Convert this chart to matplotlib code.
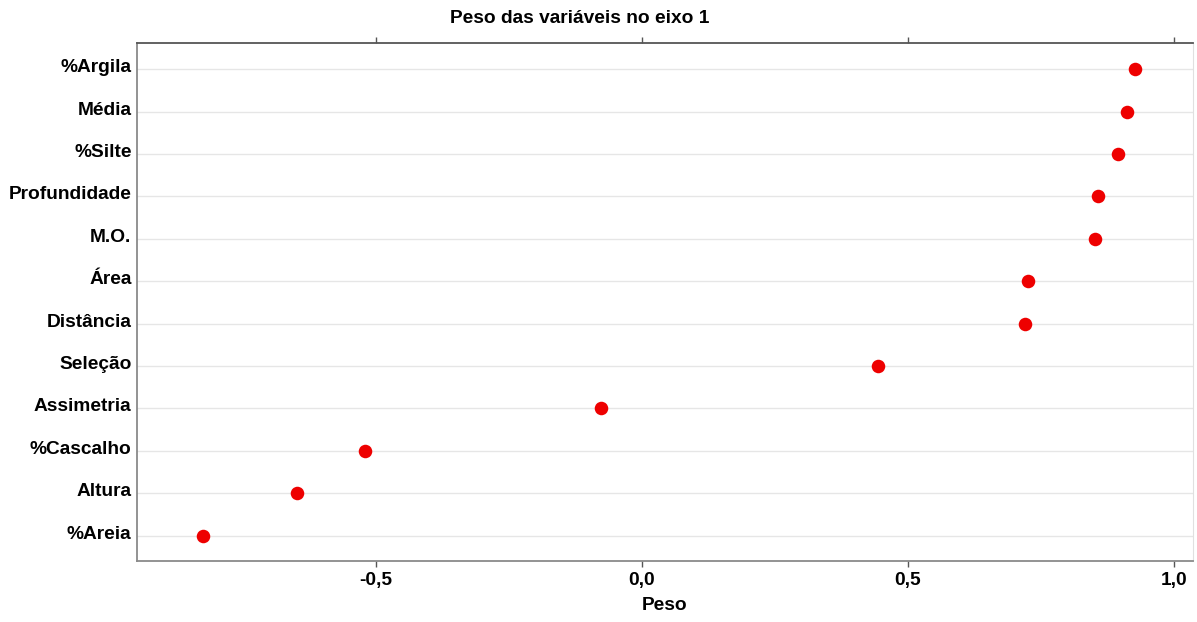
import matplotlib
matplotlib.use("Agg")
import matplotlib.pyplot as plt
import matplotlib.transforms as mtransforms
import numpy as np

# ── Data ─────────────────────────────────────────────────────────────────────
variables = ["%Argila", "Média", "%Silte", "Profundidade", "M.O.", "Área",
             "Distância", "Seleção", "Assimetria", "%Cascalho", "Altura", "%Areia"]
pesos = [0.927, 0.912, 0.895, 0.857, 0.852, 0.726,
         0.720, 0.444, -0.077, -0.521, -0.648, -0.825]
x_ticks = [-0.5, 0.0, 0.5, 1.0]
x_labels = ["-0,5", "0,0", "0,5", "1,0"]

plt.rcParams["font.family"] = ["Liberation Sans", "DejaVu Sans"]
FS = 13.8

fig = plt.figure(figsize=(11.97, 6.22), dpi=100)
ax = fig.add_axes([0.1145, 0.098, 0.882, 0.833])

y = np.arange(len(variables))[::-1]
ax.scatter(pesos, y, s=95, color="#ee0000", zorder=3, linewidths=0)

ax.set_xlim(-0.949, 1.036)
ax.set_ylim(-0.6, len(variables) - 1 + 0.62)

ax.set_yticks(y)
ax.set_yticklabels(variables, fontsize=FS, fontweight="bold")
ax.tick_params(axis="y", length=0, pad=4)
# labels sit just above their gridline, nudged down a few px
shift = mtransforms.ScaledTranslation(0, -3 / 100, fig.dpi_scale_trans)
for lbl in ax.get_yticklabels():
    lbl.set_verticalalignment("baseline")
    lbl.set_transform(lbl.get_transform() + shift)

ax.set_xticks(x_ticks)
ax.set_xticklabels(x_labels, fontsize=FS, fontweight="bold")
ax.tick_params(axis="x", direction="out", length=4, width=1, color="#555555",
               top=True, pad=4)
ax.set_xlabel("Peso", fontsize=FS, fontweight="bold", labelpad=6)

ax.grid(axis="y", color="#e6e6e6", linewidth=1, zorder=0)
ax.grid(axis="x", visible=False)

for side in ["left", "bottom", "top"]:
    ax.spines[side].set_color("#8a8a8a")
    ax.spines[side].set_linewidth(1.3)
ax.spines["top"].set_color("#555555")
ax.spines["right"].set_color("#e0e0e0")

fig.text(0.484, 0.97, "Peso das variáveis no eixo 1", ha="center", va="center",
         fontsize=FS, fontweight="bold")

fig.savefig("out.png", dpi=100)
